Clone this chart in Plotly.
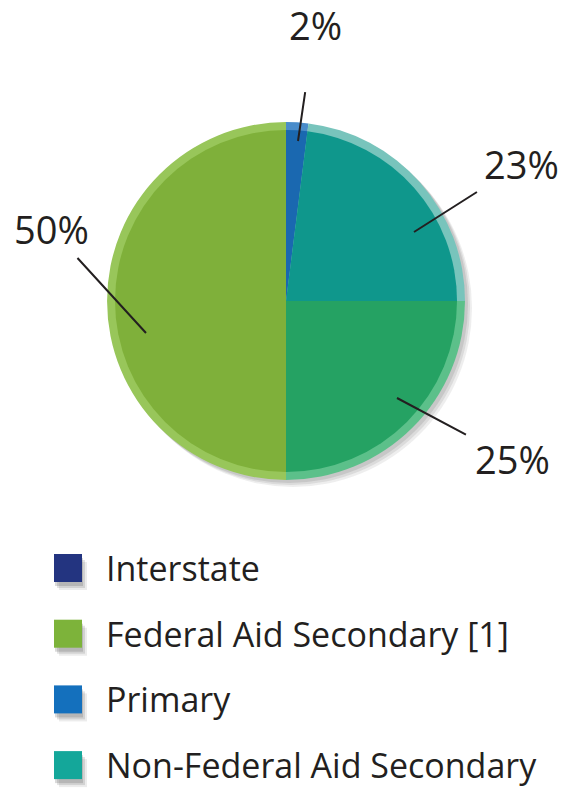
import plotly.graph_objects as go

# ---- data ----
categories = ["Interstate", "Federal Aid Secondary [1]", "Primary",
              "Non-Federal Aid Secondary", "Local"]
shares = [0, 50, 2, 23, 25]
pct_labels = ["0%", "50%", "2%", "23%", "25%"]

# ---- styling ----
colors = ["#233480", "#7fb03a", "#1a68b0", "#0f978c", "#25a263"]
rim_colors = ["#3a4a96", "#98c65a", "#4a8cca", "#78c4bc", "#5cc08a"]
legend_colors = ["#233480", "#7db33a", "#1470bd", "#14a79a", "#25a263"]
W, H = 561, 789
CX, CY, R, RIM = 286, 301, 179, 8
TXT = "#231f20"
FONT = "Open Sans, sans-serif"


def dom(r):
    return dict(x=[(CX - r) / W, (CX + r) / W],
                y=[1 - (CY + r) / H, 1 - (CY - r) / H])


def px(x, y):
    return x / W, 1 - y / H


fig = go.Figure()
for r, cols in [(R, rim_colors), (R - RIM, colors)]:
    fig.add_trace(go.Pie(
        labels=categories, values=shares, sort=False, direction="clockwise",
        rotation=180, domain=dom(r), textinfo="none", hoverinfo="label+percent",
        marker=dict(colors=cols, line=dict(width=0)), showlegend=False))

# soft shadow behind pie
shapes = []
for off, op in [(7, 0.10), (5, 0.12), (3, 0.15)]:
    x0, y0 = px(CX - R + off, CY - R + off)
    x1, y1 = px(CX + R + off, CY + R + off)
    shapes.append(dict(type="circle", xref="paper", yref="paper", x0=x0, x1=x1,
                       y0=y1, y1=y0, fillcolor="#555", opacity=op,
                       line=dict(width=0), layer="below"))

# percentage labels with leader lines (tip in px, text offset in px, startstandoff)
label_layout = {
    "2%": ((298, 141), (17, -116), 40),
    "23%": ((414, 232), (107, -68), 6),
    "25%": ((397, 398), (115, 61), 8),
    "50%": ((146, 333), (-95, -104), 2),
}
annotations = []
for lab, v in zip(pct_labels, shares):
    if v == 0:
        continue
    (tx, ty), (ax, ay), sso = label_layout[lab]
    x, y = px(tx, ty)
    annotations.append(dict(
        x=x, y=y, xref="paper", yref="paper", text=lab, showarrow=True,
        ax=ax, ay=ay, arrowhead=0, arrowwidth=2, arrowcolor=TXT,
        startstandoff=sso, standoff=0,
        font=dict(family=FONT, size=38, color=TXT)))

# legend (manual, large swatches)
LX0, LY0, LSTEP, SW = 54, 568, 65.7, 28
for i, (name, col) in enumerate(zip(categories, legend_colors)):
    yc = LY0 + i * LSTEP
    for off, op in [(6, 0.10), (4, 0.15), (2, 0.2)]:
        x0, y0 = px(LX0 + off - 1, yc - SW / 2 + off + 2)
        x1, y1 = px(LX0 + SW + off - 1, yc + SW / 2 + off + 2)
        shapes.append(dict(type="rect", xref="paper", yref="paper", x0=x0, x1=x1,
                           y0=y1, y1=y0, fillcolor="#444", opacity=op,
                           line=dict(width=0)))
    x0, y0 = px(LX0, yc - SW / 2)
    x1, y1 = px(LX0 + SW, yc + SW / 2)
    shapes.append(dict(type="rect", xref="paper", yref="paper", x0=x0, x1=x1,
                       y0=y1, y1=y0, fillcolor=col, line=dict(width=0)))
    tx, ty = px(104, yc)
    annotations.append(dict(x=tx, y=ty, xref="paper", yref="paper", text=name,
                            showarrow=False, xanchor="left", yanchor="middle",
                            font=dict(family=FONT, size=34, color=TXT)))

fig.update_layout(
    width=W, height=H, margin=dict(l=0, r=0, t=0, b=0),
    paper_bgcolor="white", plot_bgcolor="white",
    shapes=shapes, annotations=annotations, showlegend=False)

fig.write_html("out.html", config={"displayModeBar": False},
               post_script="document.body.style.margin='0';"
                           "document.body.style.overflow='hidden';")
